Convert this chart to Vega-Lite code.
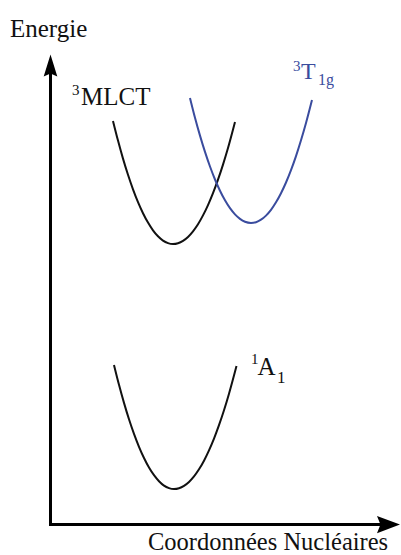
{
  "$schema": "https://vega.github.io/schema/vega-lite/v6.json",
  "width": 401,
  "height": 555,
  "padding": 0,
  "autosize": {"type": "none"},
  "background": "white",
  "config": {"view": {"stroke": null}},
  "datasets": {
    "curves": [
      {"state": "MLCT", "x": 113, "y": 434},
      {"state": "MLCT", "x": 118, "y": 414.4},
      {"state": "MLCT", "x": 123, "y": 396.4},
      {"state": "MLCT", "x": 128, "y": 380.2},
      {"state": "MLCT", "x": 133, "y": 365.7},
      {"state": "MLCT", "x": 138, "y": 352.9},
      {"state": "MLCT", "x": 143, "y": 341.8},
      {"state": "MLCT", "x": 148, "y": 332.4},
      {"state": "MLCT", "x": 153, "y": 324.7},
      {"state": "MLCT", "x": 158, "y": 318.7},
      {"state": "MLCT", "x": 163, "y": 314.4},
      {"state": "MLCT", "x": 168, "y": 311.9},
      {"state": "MLCT", "x": 173, "y": 311},
      {"state": "MLCT", "x": 178, "y": 311.8},
      {"state": "MLCT", "x": 183, "y": 314.2},
      {"state": "MLCT", "x": 188, "y": 318.1},
      {"state": "MLCT", "x": 193, "y": 323.7},
      {"state": "MLCT", "x": 198, "y": 330.8},
      {"state": "MLCT", "x": 203, "y": 339.6},
      {"state": "MLCT", "x": 208, "y": 349.9},
      {"state": "MLCT", "x": 213, "y": 361.8},
      {"state": "MLCT", "x": 218, "y": 375.3},
      {"state": "MLCT", "x": 223, "y": 390.4},
      {"state": "MLCT", "x": 228, "y": 407},
      {"state": "MLCT", "x": 235, "y": 433},
      {"state": "T1g", "x": 190, "y": 457},
      {"state": "T1g", "x": 195, "y": 437.3},
      {"state": "T1g", "x": 200, "y": 419.4},
      {"state": "T1g", "x": 205, "y": 403.1},
      {"state": "T1g", "x": 210, "y": 388.5},
      {"state": "T1g", "x": 215, "y": 375.5},
      {"state": "T1g", "x": 220, "y": 364.3},
      {"state": "T1g", "x": 225, "y": 354.7},
      {"state": "T1g", "x": 230, "y": 346.8},
      {"state": "T1g", "x": 235, "y": 340.6},
      {"state": "T1g", "x": 240, "y": 336.1},
      {"state": "T1g", "x": 245, "y": 333.2},
      {"state": "T1g", "x": 251, "y": 332},
      {"state": "T1g", "x": 256, "y": 332.8},
      {"state": "T1g", "x": 261, "y": 335.3},
      {"state": "T1g", "x": 266, "y": 339.4},
      {"state": "T1g", "x": 271, "y": 345.2},
      {"state": "T1g", "x": 276, "y": 352.7},
      {"state": "T1g", "x": 281, "y": 361.8},
      {"state": "T1g", "x": 286, "y": 372.5},
      {"state": "T1g", "x": 291, "y": 384.9},
      {"state": "T1g", "x": 296, "y": 398.9},
      {"state": "T1g", "x": 301, "y": 414.7},
      {"state": "T1g", "x": 306, "y": 432},
      {"state": "T1g", "x": 312, "y": 455},
      {"state": "A1", "x": 114, "y": 190},
      {"state": "A1", "x": 119, "y": 170.2},
      {"state": "A1", "x": 124, "y": 152.1},
      {"state": "A1", "x": 129, "y": 135.7},
      {"state": "A1", "x": 134, "y": 121.1},
      {"state": "A1", "x": 139, "y": 108.2},
      {"state": "A1", "x": 144, "y": 97},
      {"state": "A1", "x": 149, "y": 87.5},
      {"state": "A1", "x": 154, "y": 79.8},
      {"state": "A1", "x": 159, "y": 73.8},
      {"state": "A1", "x": 164, "y": 69.4},
      {"state": "A1", "x": 169, "y": 66.9},
      {"state": "A1", "x": 174, "y": 66},
      {"state": "A1", "x": 179, "y": 66.8},
      {"state": "A1", "x": 184, "y": 69.2},
      {"state": "A1", "x": 189, "y": 73.1},
      {"state": "A1", "x": 194, "y": 78.6},
      {"state": "A1", "x": 199, "y": 85.7},
      {"state": "A1", "x": 204, "y": 94.3},
      {"state": "A1", "x": 209, "y": 104.6},
      {"state": "A1", "x": 214, "y": 116.4},
      {"state": "A1", "x": 219, "y": 129.8},
      {"state": "A1", "x": 224, "y": 144.7},
      {"state": "A1", "x": 229, "y": 161.3},
      {"state": "A1", "x": 236.5, "y": 189}
    ],
    "axes": [
      {"name": "energy", "x": 50.5, "y": 29, "x2": 50.5, "y2": 488},
      {"name": "coord", "x": 49, "y": 30.5, "x2": 384, "y2": 30.5}
    ],
    "labels": [
      {"text": "Energie", "x": 10, "y": 518, "size": 25, "color": "black"},
      {"text": "Coordonnées Nucléaires", "x": 148, "y": 5, "size": 24.5, "color": "black"},
      {"text": "3", "x": 72, "y": 460, "size": 15, "color": "black"},
      {"text": "MLCT", "x": 81, "y": 450, "size": 25, "color": "black"},
      {"text": "3", "x": 293, "y": 484, "size": 15, "color": "blue"},
      {"text": "T", "x": 301, "y": 476, "size": 24, "color": "blue"},
      {"text": "1g", "x": 318, "y": 470, "size": 16, "color": "blue"},
      {"text": "1", "x": 251, "y": 191, "size": 15, "color": "black"},
      {"text": "A", "x": 257.5, "y": 180, "size": 25, "color": "black"},
      {"text": "1", "x": 277, "y": 172, "size": 17, "color": "black"}
    ]
  },
  "layer": [
    {
      "data": {"name": "axes"},
      "mark": {"type": "rule", "strokeWidth": 3, "color": "black"},
      "encoding": {
        "x": {"field": "x", "type": "quantitative", "scale": {"domain": [0, 401], "nice": false, "zero": false}, "axis": null},
        "y": {"field": "y", "type": "quantitative", "scale": {"domain": [0, 555], "nice": false, "zero": false}, "axis": null},
        "x2": {"field": "x2"},
        "y2": {"field": "y2"}
      }
    },
    {
      "data": {"values": [{"x": 50.5, "y": 489.5}]},
      "mark": {"type": "point", "filled": true, "color": "black", "opacity": 1, "size": 484, "shape": "M0,-1 L0.62,1 L0,0.72 L-0.62,1 Z"},
      "encoding": {
        "x": {"field": "x", "type": "quantitative"},
        "y": {"field": "y", "type": "quantitative"}
      }
    },
    {
      "data": {"values": [{"x": 388.5, "y": 30.5}]},
      "mark": {"type": "point", "filled": true, "color": "black", "opacity": 1, "size": 529, "shape": "M1,0 L-1,0.75 L-0.7,0 L-1,-0.75 Z"},
      "encoding": {
        "x": {"field": "x", "type": "quantitative"},
        "y": {"field": "y", "type": "quantitative"}
      }
    },
    {
      "data": {"name": "curves"},
      "mark": {"type": "line", "interpolate": "monotone", "strokeWidth": 2},
      "encoding": {
        "x": {"field": "x", "type": "quantitative"},
        "y": {"field": "y", "type": "quantitative"},
        "detail": {"field": "state"},
        "order": {"field": "x", "type": "quantitative"},
        "color": {"field": "state", "type": "nominal", "scale": {"domain": ["MLCT", "T1g", "A1"], "range": ["#111111", "#3a4c9e", "#111111"]}, "legend": null}
      }
    },
    {
      "data": {"name": "labels"},
      "mark": {"type": "text", "align": "left", "baseline": "alphabetic", "font": "Liberation Serif"},
      "encoding": {
        "x": {"field": "x", "type": "quantitative"},
        "y": {"field": "y", "type": "quantitative"},
        "text": {"field": "text"},
        "size": {"field": "size", "type": "quantitative", "scale": null},
        "color": {"field": "color", "type": "nominal", "scale": {"domain": ["black", "blue"], "range": ["#111111", "#3a4c9e"]}, "legend": null}
      }
    }
  ]
}
